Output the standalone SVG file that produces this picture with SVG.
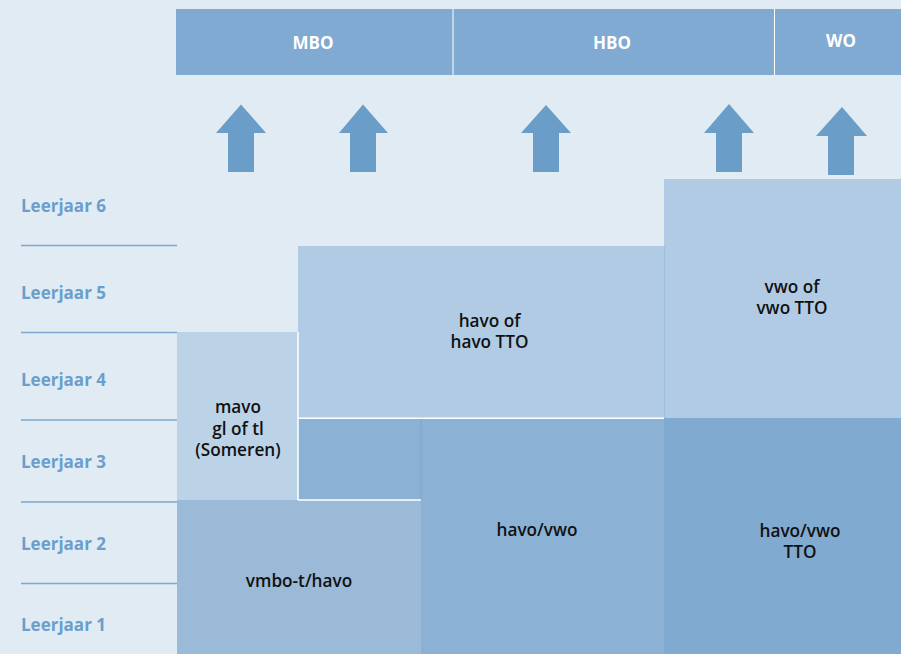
<svg xmlns="http://www.w3.org/2000/svg" width="901" height="654" viewBox="0 0 901 654">
<style>
.lbl{font-family:"Open Sans","Liberation Sans",sans-serif;font-weight:700;font-size:17px;fill:#6a9ecb}
.hdr{font-family:"Open Sans","Liberation Sans",sans-serif;font-weight:700;font-size:17px;fill:#ffffff;text-anchor:middle}
.txt{font-family:"Open Sans","Liberation Sans",sans-serif;font-weight:600;font-size:17.2px;fill:#111111;text-anchor:middle}
.arrow{fill:#6a9dc8}
.rule{stroke:#7ba7d0;stroke-width:1.3}
.sep{stroke:#ffffff;stroke-width:1.5}
</style>
<rect x="0" y="0" width="901" height="654" fill="#e1ebf4"/>

<g id="header">
<rect x="176" y="9" width="725" height="66" fill="#80aad2"/>
<line x1="453" y1="9" x2="453" y2="75" stroke="#ffffff" stroke-width="1"/>
<line x1="774.5" y1="9" x2="774.5" y2="75" stroke="#ffffff" stroke-width="1"/>
<text class="hdr" x="313" y="49">MBO</text>
<text class="hdr" x="612" y="49">HBO</text>
<text class="hdr" x="841" y="47">WO</text>
</g>

<g id="year-labels">
<line class="rule" x1="21" y1="245.5" x2="177" y2="245.5"/>
<line class="rule" x1="21" y1="332.5" x2="177" y2="332.5"/>
<line class="rule" x1="21" y1="420" x2="177" y2="420"/>
<line class="rule" x1="21" y1="502" x2="177" y2="502"/>
<line class="rule" x1="21" y1="583.5" x2="177" y2="583.5"/>
<text class="lbl" x="21" y="212">Leerjaar 6</text>
<text class="lbl" x="21" y="299">Leerjaar 5</text>
<text class="lbl" x="21" y="386">Leerjaar 4</text>
<text class="lbl" x="21" y="468">Leerjaar 3</text>
<text class="lbl" x="21" y="550">Leerjaar 2</text>
<text class="lbl" x="21" y="631">Leerjaar 1</text>
</g>

<g id="vmbo">
<rect x="177" y="500" width="244" height="154" fill="#9abad8"/>
<text class="txt" x="299" y="587">vmbo-t/havo</text>
</g>

<g id="mavo">
<rect x="177" y="332" width="121" height="168" fill="#bcd3e7"/>
<text class="txt" x="238" y="413">mavo</text>
<text class="txt" x="238" y="434.5">gl of tl</text>
<text class="txt" x="238" y="456">(Someren)</text>
</g>

<g id="havo">
<rect x="298" y="246" width="366" height="172" fill="#b0cbe3"/>
<text class="txt" x="489.5" y="327">havo of</text>
<text class="txt" x="489.5" y="348">havo TTO</text>
</g>

<g id="bridge">
<rect x="298" y="418" width="123" height="82" fill="#8bb2d5"/>
</g>

<g id="havo-vwo">
<rect x="421" y="418" width="243" height="236" fill="#8bb2d5"/>
<line x1="421" y1="418" x2="421" y2="500" stroke="#7aa5cf" stroke-width="1"/>
<text class="txt" x="537" y="536">havo/vwo</text>
</g>

<g id="vwo">
<rect x="664" y="179" width="237" height="239" fill="#b0cbe3"/>
<line x1="664.5" y1="246" x2="664.5" y2="418" stroke="#9dbfe0" stroke-width="1"/>
<text class="txt" x="792" y="293">vwo of</text>
<text class="txt" x="792" y="314">vwo TTO</text>
</g>

<g id="havo-vwo-tto">
<rect x="664" y="418" width="237" height="236" fill="#80aad0"/>
<text class="txt" x="800" y="536.5">havo/vwo</text>
<text class="txt" x="800" y="558">TTO</text>
</g>

<g id="separators">
<line class="sep" x1="298" y1="332" x2="298" y2="500"/>
<line class="sep" x1="298" y1="418.3" x2="664" y2="418.3"/>
<line class="sep" x1="298" y1="500" x2="421" y2="500"/>
</g>

<g id="connectors">
<polygon class="arrow" points="241,104.5 266,133 254,133 254,172 228,172 228,133 216,133"/>
<polygon class="arrow" points="363,104.5 388,133 376,133 376,172 350,172 350,133 339,133"/>
<polygon class="arrow" points="546,105 571,133 559,133 559,172 533,172 533,133 521,133"/>
<polygon class="arrow" points="729,104 754,133 742,133 742,172 716,172 716,133 704,133"/>
<polygon class="arrow" points="842,107 867,136 854,136 854,175 828,175 828,136 816,136"/>
</g>
</svg>
